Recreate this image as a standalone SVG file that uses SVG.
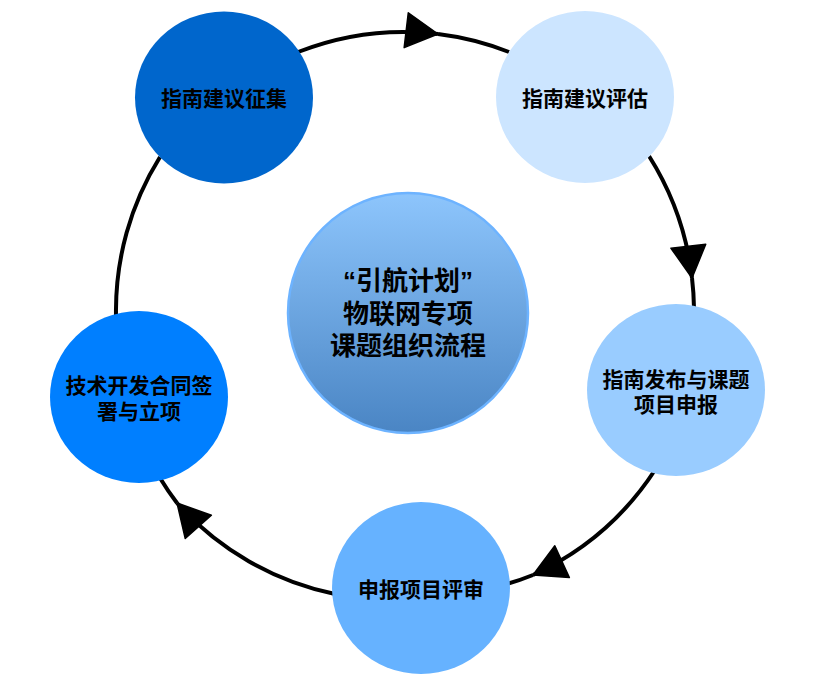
<svg xmlns="http://www.w3.org/2000/svg" width="823" height="691" viewBox="0 0 823 691">
<defs>
<style>
.conn{fill:none;stroke:#000;stroke-width:4}
.lbl{font-family:"Liberation Sans","Noto Sans CJK SC",sans-serif;font-weight:bold;font-size:21px;fill:#000;text-anchor:middle}
.big{font-size:26px}
</style>
<marker id="arr" markerUnits="userSpaceOnUse" markerWidth="34" markerHeight="36" refX="32" refY="18" orient="auto" viewBox="0 0 34 36" overflow="visible">
<path d="M0,0.5 L32,18 L0,35.5 Z" fill="#000" stroke="#000" stroke-width="1.5" stroke-linejoin="round"/>
</marker>
<linearGradient id="cg" x1="0" y1="0" x2="0" y2="1">
<stop offset="0" stop-color="#8DC5FC"/>
<stop offset="1" stop-color="#4A85C4"/>
</linearGradient>
</defs>
<rect width="823" height="691" fill="#fff"/>
<g id="connectors">
<path class="conn" d="M298,52 A290,290 0 0 1 438,34" marker-end="url(#arr)"/>
<path class="conn" d="M438,34 A290,290 0 0 1 509,52"/>
<path class="conn" d="M649,156 A290,290 0 0 1 692,278" marker-end="url(#arr)"/>
<path class="conn" d="M692,278 A290,290 0 0 1 694,308"/>
<path class="conn" d="M655,470 A290,290 0 0 1 533,575" marker-end="url(#arr)"/>
<path class="conn" d="M533,575 A290,290 0 0 1 507,584"/>
<path class="conn" d="M335,594 A290,290 0 0 1 177,503" marker-end="url(#arr)"/>
<path class="conn" d="M177,503 A290,290 0 0 1 160,478"/>
<path class="conn" d="M116,315 A290,290 0 0 1 160,157"/>
</g>
<g id="center">
<circle cx="408" cy="313" r="120" fill="url(#cg)" stroke="#6DB3FF" stroke-width="2.5"/>
<text class="lbl big" x="408" y="290">“引航计划”</text>
<text class="lbl big" x="408" y="323">物联网专项</text>
<text class="lbl big" x="408" y="355">课题组织流程</text>
</g>
<g id="n1">
<ellipse cx="224" cy="97.5" rx="89" ry="86" fill="#0066CC"/>
<text class="lbl" x="224" y="106">指南建议征集</text>
</g>
<g id="n2">
<ellipse cx="585" cy="97" rx="89" ry="86" fill="#CCE5FF"/>
<text class="lbl" x="585" y="106">指南建议评估</text>
</g>
<g id="n3">
<ellipse cx="676" cy="390" rx="89" ry="86" fill="#99CCFF"/>
<text class="lbl" x="676" y="386.5">指南发布与课题</text>
<text class="lbl" x="676" y="411.5">项目申报</text>
</g>
<g id="n4">
<ellipse cx="421" cy="588" rx="89" ry="86" fill="#66B2FF"/>
<text class="lbl" x="421" y="596.5">申报项目评审</text>
</g>
<g id="n5">
<ellipse cx="139" cy="397" rx="89" ry="86" fill="#007FFF"/>
<text class="lbl" x="139" y="393">技术开发合同签</text>
<text class="lbl" x="139" y="418.5">署与立项</text>
</g>
</svg>
